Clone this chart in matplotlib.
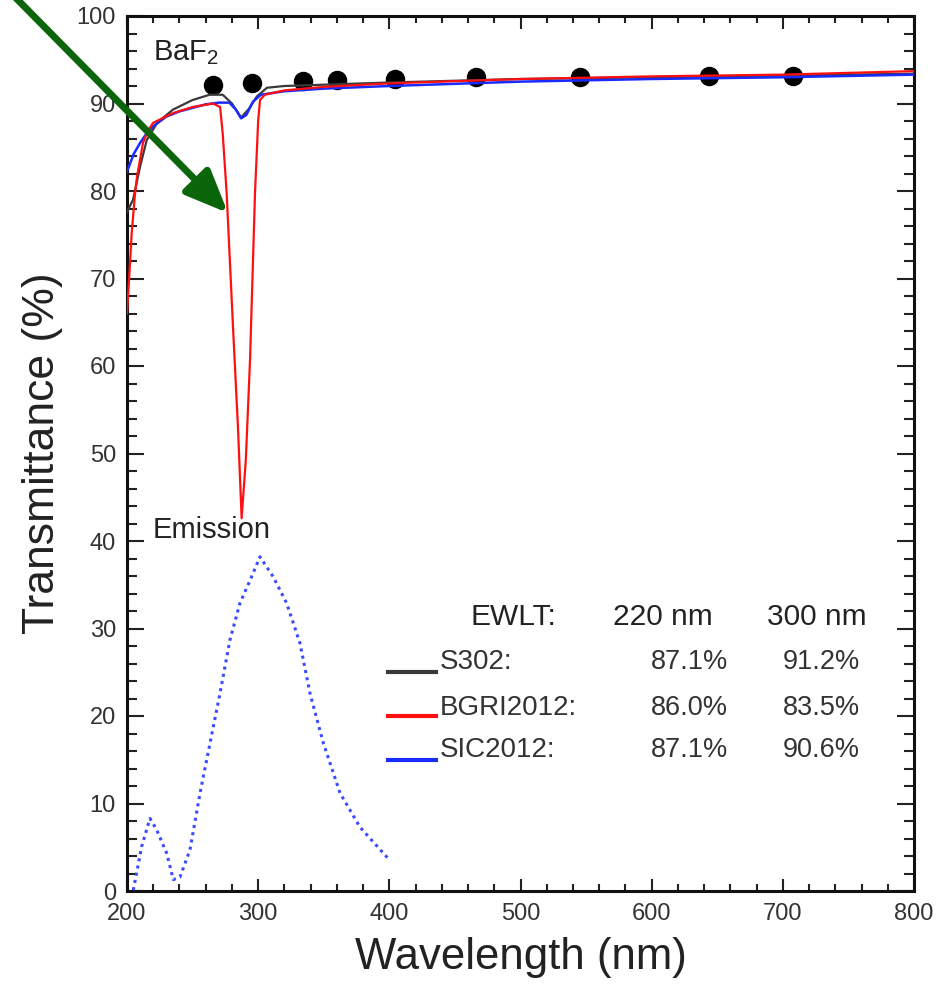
import matplotlib
matplotlib.use("Agg")
import matplotlib.pyplot as plt
from matplotlib.ticker import MultipleLocator
from matplotlib.lines import Line2D

plt.rcParams['font.family'] = ['Liberation Sans', 'DejaVu Sans']
plt.rcParams['mathtext.fontset'] = 'custom'
plt.rcParams['mathtext.rm'] = 'Liberation Sans'

# ---------------- data ----------------
s302_wl = [200, 204.6, 210, 215, 223, 235, 250, 263, 273, 280, 287, 293, 299, 306.7,
           320, 340, 400, 450, 500, 600, 700, 800]
s302_t = [77.6, 79.0, 82.8, 85.8, 87.8, 89.3, 90.4, 91.0, 91.0, 90.0, 88.4, 89.4, 90.8, 91.8,
          92.0, 92.1, 92.4, 92.6, 92.8, 93.0, 93.2, 93.4]

bgri_wl = [200, 202, 203.6, 206, 207.6, 212.2, 216, 220, 235, 250, 265.6, 271, 273, 276,
           280.8, 284.6, 287.4, 290.6, 293.8, 297.6, 300, 301.4, 305, 320, 350, 400, 500,
           600, 700, 800]
bgri_t = [66.0, 71.0, 75.2, 79.5, 81.6, 85.5, 86.9, 87.8, 88.9, 89.6, 90.0, 89.6, 86.5, 79.7,
          64.5, 53.0, 42.6, 49.3, 60.7, 79.8, 88.0, 90.4, 91.0, 91.5, 91.9, 92.3, 92.8,
          93.1, 93.3, 93.7]

sic_wl = [200, 205, 210, 215, 220, 230, 240, 250, 260, 270, 278, 283, 287, 291, 296, 302,
          320, 350, 400, 500, 600, 700, 800]
sic_t = [82.2, 84.2, 85.5, 86.6, 87.4, 88.5, 89.1, 89.5, 89.9, 90.1, 90.1, 89.3, 88.3, 88.7,
         90.2, 91.0, 91.4, 91.7, 92.0, 92.5, 92.8, 93.0, 93.3]

dots_wl = [265.6, 295.3, 334, 360, 404, 466, 545, 644, 708]
dots_t = [92.1, 92.3, 92.6, 92.7, 92.8, 93.0, 93.0, 93.1, 93.1]

em_wl = [204.8, 211.2, 217.5, 222.6, 230.3, 235.3, 240.4, 248.0, 255.7, 263.3, 270.9, 278.5,
         286.1, 293.8, 301.4, 311.5, 321.7, 331.9, 339.5, 349.7, 362.4, 377.6, 399.2]
em_v = [0.1, 5.1, 8.3, 7.0, 4.3, 1.3, 1.6, 4.7, 11.2, 16.9, 22.6, 28.7,
        32.9, 35.5, 38.2, 35.9, 32.9, 28.3, 22.6, 16.9, 11.2, 7.3, 3.7]

series_names = ['S302:', 'BGRI2012:', 'SIC2012:']
series_colors = ['#3a3a3a', '#ff1010', '#1a2bff']
ewlt_220 = ['87.1%', '86.0%', '87.1%']
ewlt_300 = ['91.2%', '83.5%', '90.6%']

# ---------------- figure ----------------
W, H = 948, 986
fig = plt.figure(figsize=(W / 100, H / 100), dpi=100)
ax = fig.add_axes([127 / W, 1 - 891 / H, (914 - 127) / W, (891 - 16) / H])

ax.plot(s302_wl, s302_t, color=series_colors[0], lw=1.6, zorder=3)
ax.plot(sic_wl, sic_t, color=series_colors[2], lw=1.8, zorder=4)
ax.plot(bgri_wl, bgri_t, color=series_colors[1], lw=1.6, zorder=5)
ax.plot(dots_wl, dots_t, 'o', color='black', ms=13, zorder=2)
ax.plot(em_wl, em_v, color='#3a4bff', lw=2.2, ls=(0, (1.0, 1.4)), zorder=3)

ax.set_xlim(200, 800)
ax.set_ylim(0, 100)
ax.xaxis.set_major_locator(MultipleLocator(100))
ax.xaxis.set_minor_locator(MultipleLocator(20))
ax.yaxis.set_major_locator(MultipleLocator(10))
ax.yaxis.set_minor_locator(MultipleLocator(2))
ax.tick_params(which='both', direction='in', top=True, right=True, width=1.5, color='#222222')
ax.tick_params(axis='x', which='major', length=9, pad=9, labelsize=17, labelcolor='#333333')
ax.tick_params(axis='x', which='minor', length=5)
ax.tick_params(axis='y', which='major', length=12, pad=8, labelsize=17, labelcolor='#333333')
ax.tick_params(axis='y', which='minor', length=7)
for sp in ax.spines.values():
    sp.set_linewidth(2.2)
    sp.set_color('#111111')

ax.set_xlabel('Wavelength (nm)', fontsize=31.5, color='#222222', labelpad=8)
ax.set_ylabel('Transmittance (%)', fontsize=32, color='#222222', labelpad=10)

ax.text(219.5, 95.0, r'BaF$_2$', fontsize=21, color='#222222', va='baseline')
ax.text(219.5, 40.3, 'Emission', fontsize=21, color='#222222', va='baseline')

# legend table
ax.text(461.5, 31.3, 'EWLT:', fontsize=21.5, color='#222222', va='center')
ax.text(570.5, 31.3, '220 nm', fontsize=21.5, color='#222222', va='center')
ax.text(688, 31.3, '300 nm', fontsize=21.5, color='#222222', va='center')
row_y = [26.2, 20.9, 16.1]
line_y = [25.0, 20.0, 15.0]
for name, c, v1, v2, ry, ly in zip(series_names, series_colors, ewlt_220, ewlt_300, row_y, line_y):
    ax.add_line(Line2D([399, 435.6], [ly, ly], color=c, lw=3))
    ax.text(438.6, ry, name, fontsize=20, color='#333333', va='center')
    ax.text(658, ry, v1, fontsize=19.5, color='#333333', va='center', ha='right')
    ax.text(758.8, ry, v2, fontsize=19.5, color='#333333', va='center', ha='right')

# green arrow (in figure pixel coords)
ax.annotate('', xy=(228, H - 213), xycoords='figure pixels',
            xytext=(10, H + 8), textcoords='figure pixels',
            arrowprops=dict(arrowstyle='-|>,head_length=1.3,head_width=0.55',
                            color='#0b650b', lw=5, shrinkA=0, shrinkB=0,
                            mutation_scale=20),
            annotation_clip=False, zorder=10)

fig.savefig('out.png', dpi=100)
